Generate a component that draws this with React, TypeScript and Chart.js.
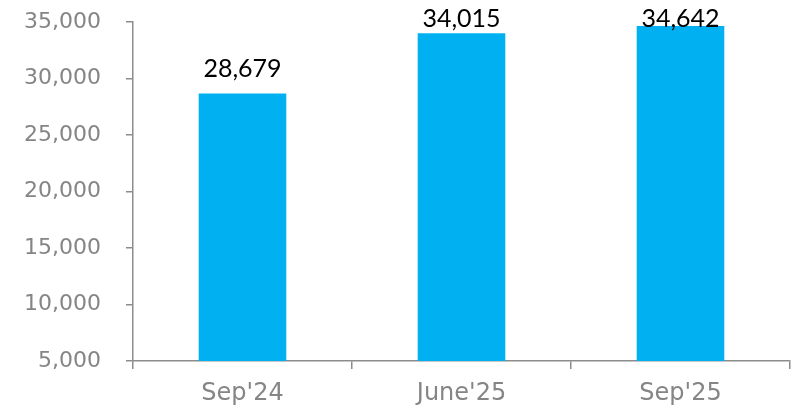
import React, { useEffect, useRef } from "react";
import { Chart, registerables } from "chart.js";

Chart.register(...registerables);

const categories = ["Sep'24", "June'25", "Sep'25"];
const values = [28679, 34015, 34642];
const yMin = 5000;
const yMax = 35000;
const yStep = 5000;

const TICK_FONT = "'DejaVu Sans', sans-serif";
const LABEL_FONT = "Lato, 'DejaVu Sans', sans-serif";

const labelPlugin = {
  id: "barLabels",
  afterDatasetsDraw(chart: any) {
    const ctx = chart.ctx;
    const meta = chart.getDatasetMeta(0);
    ctx.save();
    ctx.fillStyle = "#000000";
    ctx.font = `25px ${LABEL_FONT}`;
    ctx.textAlign = "center";
    ctx.textBaseline = "alphabetic";
    meta.data.forEach((bar: any, i: number) => {
      const v = values[i];
      const txt = v.toLocaleString("en-US");
      const y = Math.max(bar.y - 16, 27);
      ctx.fillText(txt, bar.x, y);
    });
    ctx.restore();
  },
};

export default function App() {
  const ref = useRef<HTMLCanvasElement>(null);
  useEffect(() => {
    document.body.style.margin = "0";
    const chart = new Chart(ref.current!, {
      type: "bar",
      data: {
        labels: categories,
        datasets: [
          {
            data: values,
            backgroundColor: "#00B0F0",
            categoryPercentage: 0.4,
            barPercentage: 1,
          },
        ],
      },
      options: {
        animation: false,
        responsive: false,
        maintainAspectRatio: false,
        layout: { padding: { top: 22, right: 4, left: 0, bottom: 0 } },
        plugins: { legend: { display: false }, tooltip: { enabled: false } },
        scales: {
          x: {
            offset: true,
            grid: {
              offset: true,
              drawOnChartArea: false,
              drawTicks: true,
              tickLength: 8,
              color: "#8c8c8c",
              lineWidth: 1.5,
            },
            border: { display: true, color: "#8c8c8c", width: 1.5 },
            ticks: {
              color: "#858585",
              font: { family: TICK_FONT, size: 24 },
              padding: 10,
            },
            afterFit(scale: any) {
              scale.height = 51;
              scale.paddingLeft = 0;
              scale.paddingRight = 0;
            },
          },
          y: {
            min: yMin,
            max: yMax,
            grid: {
              drawOnChartArea: false,
              drawTicks: true,
              tickLength: 7,
              color: "#8c8c8c",
              lineWidth: 1.5,
            },
            border: { display: true, color: "#8c8c8c", width: 1.5 },
            ticks: {
              stepSize: yStep,
              color: "#858585",
              font: { family: TICK_FONT, size: 22 },
              padding: 25,
              callback: (v: any) => Number(v).toLocaleString("en-US"),
            },
            afterFit(scale: any) {
              scale.width = 133;
              scale.paddingTop = 0;
              scale.paddingBottom = 0;
            },
          },
        },
      },
      plugins: [labelPlugin],
    });
    return () => chart.destroy();
  }, []);
  return (
    <div style={{ position: "absolute", left: 0, top: 0, width: 794, height: 412, background: "#fff" }}>
      <canvas ref={ref} width={794} height={412} />
    </div>
  );
}
